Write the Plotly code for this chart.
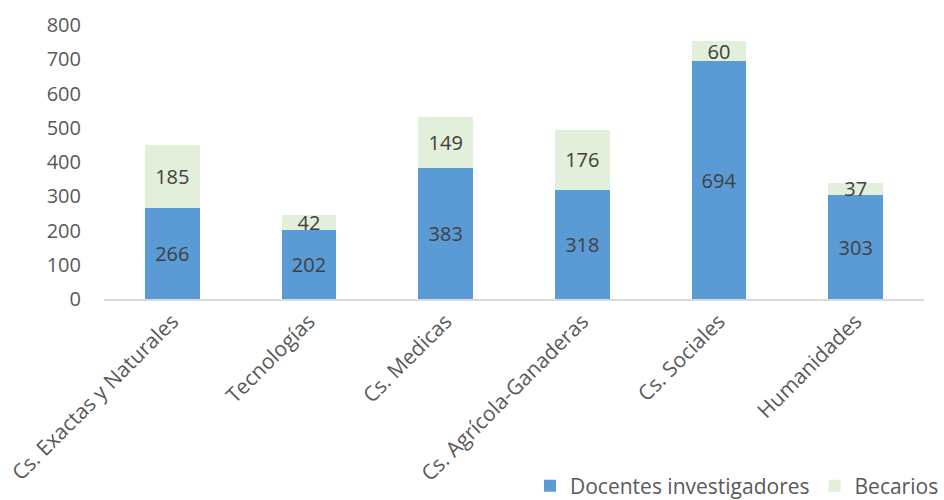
import plotly.graph_objects as go

categories = ["Cs. Exactas y Naturales", "Tecnologías", "Cs. Medicas",
              "Cs. Agrícola-Ganaderas", "Cs. Sociales", "Humanidades"]
docentes = [266, 202, 383, 318, 694, 303]
becarios = [185, 42, 149, 176, 60, 37]
y_ticks = [0, 100, 200, 300, 400, 500, 600, 700, 800]

FONT = "Open Sans, Liberation Sans, sans-serif"
TXT = "#404040"
FS = 20

fig = go.Figure()
fig.add_trace(go.Bar(
    x=categories, y=docentes, name="Docentes investigadores",
    marker=dict(color="#5B9BD5", line=dict(width=0)),
    text=docentes, textposition="inside", insidetextanchor="middle",
    textangle=0, constraintext="none",
    textfont=dict(color=TXT, size=FS, family=FONT),
))
fig.add_trace(go.Bar(
    x=categories, y=becarios, name="Becarios",
    marker=dict(color="#E2EFDA", line=dict(width=0)),
    text=becarios, textposition="inside", insidetextanchor="middle",
    textangle=0, constraintext="none",
    textfont=dict(color=TXT, size=FS, family=FONT),
))

fig.update_layout(
    barmode="stack",
    bargap=0.6,
    width=944, height=500,
    margin=dict(l=104, r=20, t=25, b=201, autoexpand=False),
    paper_bgcolor="white", plot_bgcolor="white",
    font=dict(family=FONT, color="#595959", size=FS),
    showlegend=True,
    legend=dict(orientation="h", xref="container", yref="container",
                x=1.0, xanchor="right", y=0.028, yanchor="middle",
                font=dict(size=21, color="#595959"), traceorder="normal",
                itemwidth=30, bgcolor="rgba(0,0,0,0)"),
    xaxis=dict(showline=True, linecolor="#D9D9D9", linewidth=1.5,
               tickangle=-45, ticks="", showgrid=False, automargin=False,
               tickfont=dict(size=21, color="#595959")),
    yaxis=dict(range=[0, 800], tickvals=y_ticks, showgrid=False, zeroline=False,
               showline=False, ticks="", ticklabelstandoff=22, automargin=False,
               tickfont=dict(size=FS, color="#595959")),
)

fig.write_html("out.html")
